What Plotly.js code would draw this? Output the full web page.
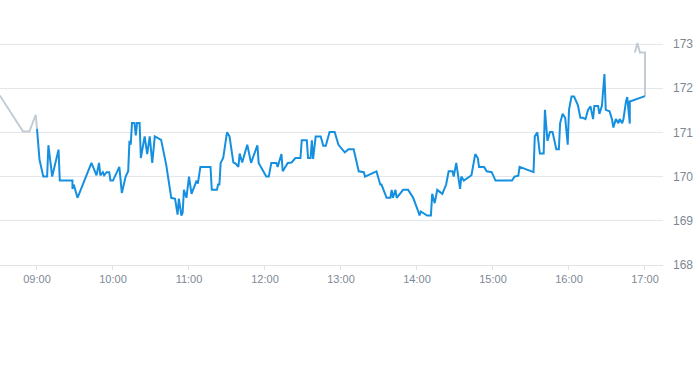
<!DOCTYPE html>
<html>
<head>
<meta charset="utf-8">
<script src="https://cdn.plot.ly/plotly-3.0.1.min.js"></script>
<style>
html,body{margin:0;padding:0;background:#fff;}
#chart{width:693px;height:365px;}
</style>
</head>
<body>
<div id="chart"></div>
<script>
const day = '2024-01-02 ';

const preTimes = ['08:30','08:31','08:49','08:54','08:59','09:00'];
const preValues = [171.82,171.82,171.02,171.02,171.40,171.08];

const postTimes = ['16:52','16:54','16:56','17:00','17:00'];
const postValues = [172.81,173.02,172.81,172.81,171.82];

const sessionTimes = [
'09:00','09:01','09:02','09:05','09:08','09:09','09:12','09:17','09:18','09:28',
'09:28','09:29','09:32','09:43','09:47','09:49','09:50','09:52','09:53','09:55',
'09:57','09:58','10:00','10:05','10:07','10:10','10:12','10:13','10:14','10:15',
'10:17','10:18','10:19','10:21','10:22','10:25','10:27','10:29','10:31','10:33',
'10:38','10:42','10:46','10:49','10:51','10:52','10:54','10:55','10:56','10:58',
'11:00','11:02','11:06','11:07','11:09','11:17','11:18','11:22','11:23','11:24',
'11:25','11:27','11:30','11:32','11:35','11:37','11:39','11:40','11:42','11:46',
'11:49','11:54','11:55','12:01','12:03','12:05','12:09','12:10','12:13','12:14',
'12:18','12:21','12:24','12:28','12:29','12:33','12:34','12:36','12:37','12:38',
'12:40','12:44','12:46','12:48','12:51','12:55','12:58','13:03','13:06','13:10',
'13:14','13:18','13:19','13:28','13:31','13:32','13:36','13:39','13:40','13:41',
'13:43','13:44','13:49','13:53','13:57','14:01','14:02','14:03','14:08','14:11',
'14:12','14:14','14:16','14:20','14:23','14:25','14:28','14:29','14:31','14:34',
'14:35','14:37','14:43','14:46','14:48','14:49','14:53','14:55','14:59','15:02',
'15:15','15:17','15:20','15:21','15:29','15:32','15:33','15:35','15:37','15:40',
'15:41','15:43','15:45','15:47','15:50','15:52','15:53','15:55','15:57','15:59',
'16:00','16:02','16:04','16:07','16:09','16:11','16:13','16:15','16:17','16:19',
'16:20','16:23','16:24','16:26','16:28','16:29','16:32','16:34','16:35','16:37',
'16:39','16:40','16:42','16:43','16:45','16:46','16:48','16:48','17:00'
];
const sessionValues = [
171.08,170.72,170.38,170.00,170.00,170.71,170.00,170.61,169.91,169.91,
169.72,169.82,169.52,170.31,170.03,170.31,170.03,170.10,170.03,170.10,
170.10,169.91,169.91,170.22,169.63,170.00,170.12,170.81,170.72,171.21,
171.21,170.93,171.21,171.21,170.42,170.91,170.51,170.91,170.31,170.91,
170.83,170.27,169.52,169.50,169.14,169.50,169.12,169.18,169.70,169.52,
170.00,169.61,169.91,169.84,170.22,170.22,169.70,169.70,169.82,169.82,
170.31,170.42,171.00,170.91,170.32,170.29,170.22,170.52,170.32,170.72,
170.31,170.71,170.31,170.00,170.00,170.31,170.31,170.22,170.51,170.12,
170.31,170.32,170.42,170.42,170.82,170.82,170.42,170.42,170.82,170.40,
170.91,170.91,170.70,170.70,171.01,171.01,170.72,170.55,170.62,170.62,
170.12,170.10,170.00,170.12,169.82,169.82,169.52,169.52,169.70,169.52,
169.70,169.52,169.70,169.70,169.52,169.21,169.12,169.21,169.12,169.12,
169.61,169.40,169.70,169.61,169.82,170.12,170.12,170.00,170.31,169.72,
170.00,169.91,170.03,170.51,170.42,170.22,170.22,170.12,170.10,169.91,
169.91,170.00,170.02,170.22,170.12,170.10,170.91,171.00,170.52,170.52,
171.51,170.81,171.01,171.01,170.62,170.62,171.21,171.42,171.33,170.72,
171.51,171.81,171.81,171.62,171.33,171.33,171.30,171.51,171.59,171.30,
171.60,171.60,171.42,171.60,172.32,171.51,171.48,171.29,171.11,171.30,
171.21,171.30,171.21,171.30,171.70,171.80,171.20,171.70,171.82
];

const xTickTimes = ['09:00','10:00','11:00','12:00','13:00','14:00','15:00','16:00','17:00'];
const yTickValues = [168,169,170,171,172,173];

const toX = arr => arr.map(t => day + t);

const grey = '#c3cbd3';
const blue = '#1590e0';
const textColor = '#7d8894';

const traces = [
  {x: toX(preTimes), y: preValues, type: 'scatter', mode: 'lines',
   line: {color: grey, width: 2}, hoverinfo: 'skip'},
  {x: toX(postTimes), y: postValues, type: 'scatter', mode: 'lines',
   line: {color: grey, width: 2}, hoverinfo: 'skip'},
  {x: toX(sessionTimes), y: sessionValues, type: 'scatter', mode: 'lines',
   line: {color: blue, width: 2}, hoverinfo: 'skip'}
];

const layout = {
  width: 693, height: 365,
  margin: {l: 0, r: 30, t: 30, b: 100},
  paper_bgcolor: '#ffffff', plot_bgcolor: '#ffffff',
  showlegend: false,
  font: {family: '"Liberation Sans", Arial, sans-serif', size: 11, color: textColor},
  xaxis: {
    type: 'date',
    range: [day + '08:30:48', day + '17:14:13'],
    tickvals: toX(xTickTimes),
    ticktext: xTickTimes,
    showgrid: false,
    showline: true, linecolor: '#dfe3e8', linewidth: 1,
    ticks: 'outside', ticklen: 4, tickcolor: '#dfe3e8', tickwidth: 1,
    tickfont: {size: 11, color: textColor},
    zeroline: false, fixedrange: true
  },
  yaxis: {
    side: 'right',
    range: [168, 173.317],
    tickvals: yTickValues,
    ticktext: yTickValues.map(String),
    showgrid: true, gridcolor: '#e3e6ea', gridwidth: 1,
    showline: false, zeroline: false,
    ticks: '', ticklabelstandoff: 9,
    tickfont: {size: 12, color: textColor},
    fixedrange: true
  }
};

Plotly.newPlot('chart', traces, layout, {displayModeBar: false, staticPlot: true});
</script>
</body>
</html>
